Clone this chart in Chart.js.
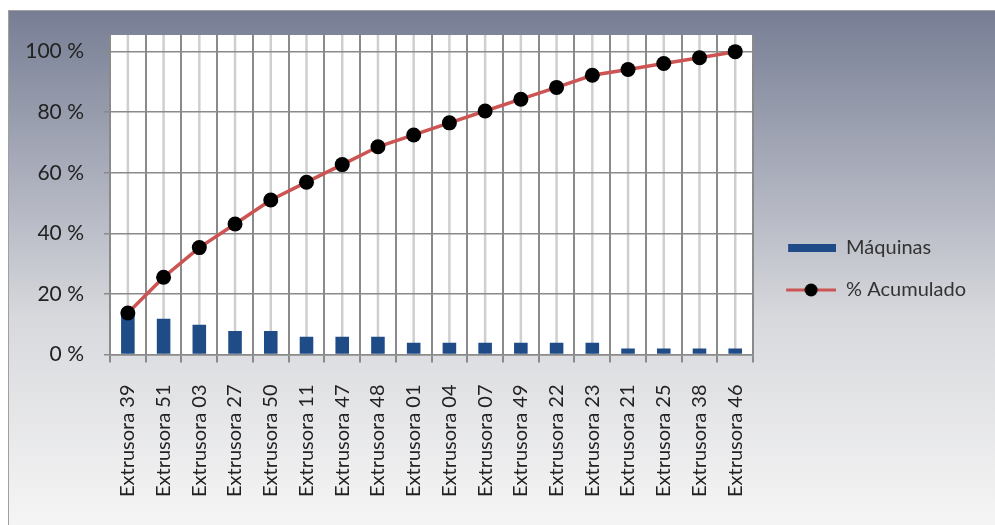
<!DOCTYPE html>
<html>
<head>
<meta charset="utf-8">
<title>Máquinas - % Acumulado</title>
<script src="https://cdn.jsdelivr.net/npm/chart.js@4.4.1/dist/chart.umd.min.js"></script>
<style>
    html, body { margin: 0; padding: 0; background: #fff; }
    #wrap { width: 995px; height: 525px; }
</style>
</head>
<body>
<div id="wrap"><canvas id="paretoChart" width="995" height="525"></canvas></div>
<script>
// Pareto data (values in %)
const categories = ['Extrusora 39', 'Extrusora 51', 'Extrusora 03', 'Extrusora 27', 'Extrusora 50', 'Extrusora 11',
    'Extrusora 47', 'Extrusora 48', 'Extrusora 01', 'Extrusora 04', 'Extrusora 07', 'Extrusora 49',
    'Extrusora 22', 'Extrusora 23', 'Extrusora 21', 'Extrusora 25', 'Extrusora 38', 'Extrusora 46'];
const maquinas = [13.7, 11.8, 9.8, 7.8, 7.8, 5.9, 5.9, 5.9, 3.9, 3.9, 3.9, 3.9, 3.9, 3.9, 2.0, 2.0, 2.0, 2.0];
const acumulado = [13.7, 25.5, 35.3, 43.1, 51.0, 56.9, 62.7, 68.6, 72.5, 76.5, 80.4, 84.3, 88.2, 92.2, 94.1, 96.1, 98.0, 100];
const yTicks = [0, 20, 40, 60, 80, 100];

const BAR_COLOR = '#1f4b87';
const LINE_COLOR = '#cc5452';
const GRID_DARK = '#8a8a8a';
const GRID_LIGHT = '#cfcfcf';
const FONT = 'Lato, "Open Sans", sans-serif';

document.addEventListener('DOMContentLoaded', function() {
    drawParetoChart();
});

// little pictures used as legend symbols
function legendBarIcon(w) {
    const c = document.createElement('canvas');
    c.width = w; c.height = 10;
    const g = c.getContext('2d');
    g.fillStyle = BAR_COLOR;
    g.fillRect(w - 48, 1, 48, 8);
    return c;
}

function legendLineIcon(w) {
    const c = document.createElement('canvas');
    c.width = w; c.height = 16;
    const g = c.getContext('2d');
    g.strokeStyle = LINE_COLOR;
    g.lineWidth = 3;
    g.beginPath();
    g.moveTo(w - 50, 8);
    g.lineTo(w, 8);
    g.stroke();
    g.fillStyle = '#000';
    g.beginPath();
    g.arc(w - 25, 8, 6.5, 0, Math.PI * 2);
    g.fill();
    return c;
}

const backgroundPlugin = {
    id: 'backgroundPlugin',
    beforeDraw(chart) {
        const ctx = chart.ctx;
        const area = chart.chartArea;
        ctx.save();
        ctx.fillStyle = '#ffffff';
        ctx.fillRect(0, 0, chart.width, chart.height);

        const grad = ctx.createLinearGradient(0, 10, 0, chart.height);
        grad.addColorStop(0, '#777e94');
        grad.addColorStop(0.3, '#a7abb9');
        grad.addColorStop(0.6, '#d8d9dd');
        grad.addColorStop(1, '#f5f5f5');
        ctx.fillStyle = grad;
        ctx.fillRect(8, 10, chart.width - 8, chart.height - 10);
        ctx.strokeStyle = '#a0a0a0';
        ctx.lineWidth = 1;
        ctx.strokeRect(8.5, 10.5, chart.width - 8, chart.height - 10);

        // white plot area
        ctx.fillStyle = '#ffffff';
        ctx.fillRect(area.left, area.top, area.right - area.left, area.bottom - area.top);

        // light lines through the middle of each category
        const x = chart.scales.x;
        ctx.strokeStyle = GRID_LIGHT;
        ctx.lineWidth = 2.5;
        for (let i = 0; i < categories.length; i++) {
            const px = x.getPixelForTick(i);
            ctx.beginPath();
            ctx.moveTo(px, area.top);
            ctx.lineTo(px, area.bottom);
            ctx.stroke();
        }
        ctx.restore();
    }
};

function drawParetoChart() {
    const ctx = document.getElementById('paretoChart').getContext('2d');
    const iconWidth = 61;

    new Chart(ctx, {
        data: {
            labels: categories,
            datasets: [{
                type: 'bar',
                label: 'Máquinas',
                data: maquinas,
                backgroundColor: BAR_COLOR,
                barPercentage: 0.5,
                categoryPercentage: 0.76,
                order: 1
            }, {
                type: 'line',
                label: '% Acumulado',
                data: acumulado,
                borderColor: LINE_COLOR,
                borderWidth: 3.5,
                pointRadius: 7.5,
                pointBackgroundColor: '#000',
                pointBorderColor: '#000',
                pointBorderWidth: 0,
                tension: 0,
                order: 0
            }]
        },
        options: {
            responsive: false,
            animation: false,
            layout: {
                padding: { top: 35, left: 0, right: 19, bottom: 22 }
            },
            scales: {
                x: {
                    offset: true,
                    grid: {
                        offset: true,
                        color: GRID_DARK,
                        lineWidth: 2,
                        tickLength: 8
                    },
                    border: { color: GRID_DARK, width: 1.5 },
                    ticks: {
                        autoSkip: false,
                        minRotation: 90,
                        maxRotation: 90,
                        padding: 22,
                        color: '#222',
                        font: { family: FONT, size: 20 }
                    },
                    afterFit: function(scale) {
                        scale.height = 148.5;
                    }
                },
                y: {
                    min: 0,
                    max: 105.5,
                    afterBuildTicks: function(scale) {
                        scale.ticks = yTicks.map(v => ({ value: v }));
                    },
                    grid: {
                        color: GRID_DARK,
                        lineWidth: 1.5,
                        tickLength: 6
                    },
                    border: { display: false },
                    ticks: {
                        padding: 20,
                        color: '#222',
                        font: { family: FONT, size: 21 },
                        callback: function(value) {
                            return value + ' %';
                        }
                    },
                    afterFit: function(scale) {
                        scale.width = 110;
                    }
                }
            },
            plugins: {
                tooltip: { enabled: false },
                legend: {
                    position: 'right',
                    labels: {
                        usePointStyle: true,
                        pointStyleWidth: iconWidth,
                        padding: 22,
                        color: '#333',
                        font: { family: FONT, size: 20 },
                        generateLabels: function(chart) {
                            return [{
                                text: 'Máquinas',
                                pointStyle: legendBarIcon(iconWidth),
                                fillStyle: BAR_COLOR,
                                strokeStyle: BAR_COLOR,
                                lineWidth: 0,
                                fontColor: '#333',
                                datasetIndex: 0
                            }, {
                                text: '% Acumulado',
                                pointStyle: legendLineIcon(iconWidth),
                                fillStyle: '#000',
                                strokeStyle: LINE_COLOR,
                                lineWidth: 0,
                                fontColor: '#333',
                                datasetIndex: 1
                            }];
                        }
                    }
                }
            }
        },
        plugins: [backgroundPlugin]
    });
}
</script>
</body>
</html>
